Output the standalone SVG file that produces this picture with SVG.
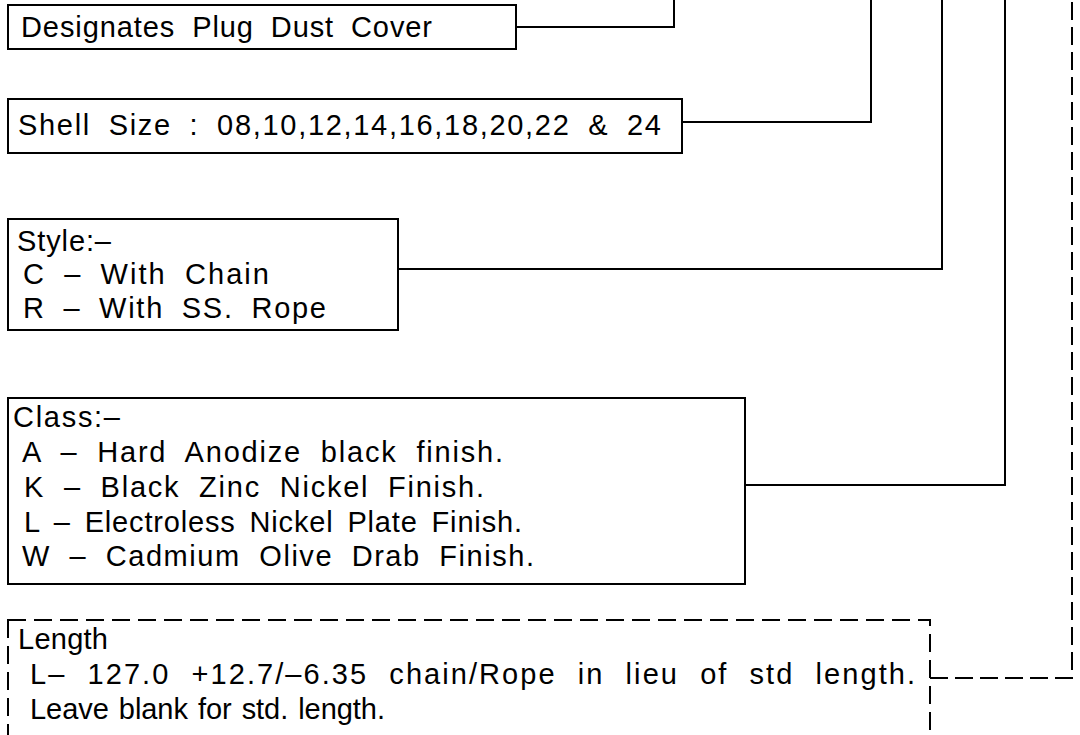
<svg xmlns="http://www.w3.org/2000/svg" width="1080" height="735" viewBox="0 0 1080 735">
<style>
.box{fill:#fff;stroke:#000;stroke-width:2}
.dbox{fill:#fff;stroke:#000;stroke-width:2;stroke-dasharray:18 8}
.ln{fill:none;stroke:#000;stroke-width:2}
.dl{fill:none;stroke:#000;stroke-width:2;stroke-dasharray:18 7}
text{font-family:"Liberation Sans",Arial,sans-serif;font-size:29px;fill:#000}
</style>
<rect width="1080" height="735" fill="#fff"/>
<g id="connectors">
<polyline class="ln" points="516,27 674,27 674,0"/>
<polyline class="ln" points="682,122 871,122 871,0"/>
<polyline class="ln" points="398,269 942,269 942,0"/>
<polyline class="ln" points="745,485 1005,485 1005,0"/>
<polyline class="dl" points="930,678 1072,678 1072,0"/>
</g>
<g id="node-designates">
<rect class="box" x="8" y="5" width="508" height="44"/>
<text x="21" y="37" word-spacing="8" textLength="411" lengthAdjust="spacing">Designates Plug Dust Cover</text>
</g>
<g id="node-shell">
<rect class="box" x="8" y="99" width="674" height="54"/>
<text x="18" y="135" word-spacing="8" textLength="643" lengthAdjust="spacing">Shell Size : 08,10,12,14,16,18,20,22 &amp; 24</text>
</g>
<g id="node-style">
<rect class="box" x="8" y="219" width="390" height="111"/>
<text x="17" y="251" textLength="94" lengthAdjust="spacing">Style:–</text>
<text x="23" y="284" word-spacing="8" textLength="246" lengthAdjust="spacing">C – With Chain</text>
<text x="23" y="318" word-spacing="8" textLength="303" lengthAdjust="spacing">R – With SS. Rope</text>
</g>
<g id="node-class">
<rect class="box" x="8" y="398" width="737" height="186"/>
<text x="13" y="427" textLength="107" lengthAdjust="spacing">Class:–</text>
<text x="22" y="462" word-spacing="9" textLength="481" lengthAdjust="spacing">A – Hard Anodize black finish.</text>
<text x="24" y="497" word-spacing="9" textLength="460" lengthAdjust="spacing">K – Black Zinc Nickel Finish.</text>
<text x="24" y="532" word-spacing="5" textLength="498" lengthAdjust="spacing">L – Electroless Nickel Plate Finish.</text>
<text x="22" y="566" word-spacing="9" textLength="512" lengthAdjust="spacing">W – Cadmium Olive Drab Finish.</text>
</g>
<g id="node-length">
<rect class="dbox" x="8" y="620" width="922" height="140"/>
<text x="18" y="649" textLength="90" lengthAdjust="spacing">Length</text>
<text x="30" y="684" word-spacing="11" textLength="885" lengthAdjust="spacing">L– 127.0 +12.7/–6.35 chain/Rope in lieu of std length.</text>
<text x="30" y="719" word-spacing="2" textLength="355" lengthAdjust="spacing">Leave blank for std. length.</text>
</g>
</svg>
